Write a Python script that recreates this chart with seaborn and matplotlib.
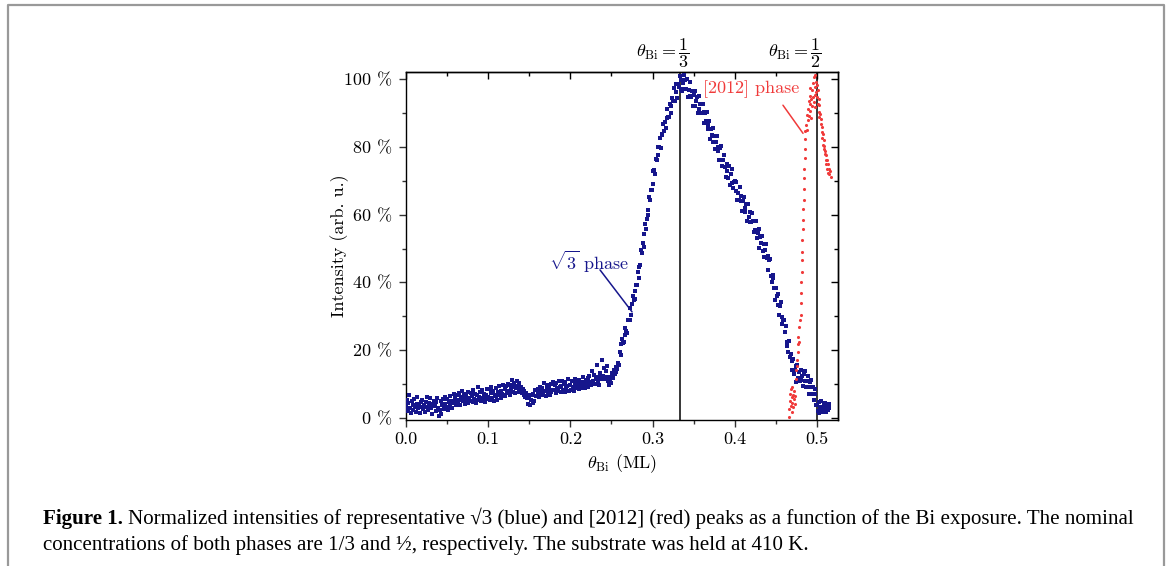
import numpy as np
import pandas as pd
import matplotlib
matplotlib.use("Agg")
import matplotlib.pyplot as plt
import seaborn as sns
from matplotlib.ticker import MultipleLocator, FuncFormatter, NullFormatter
from matplotlib.lines import Line2D

# ---------------- data ----------------
# sqrt(3) phase intensity (%), sampled every 0.001 ML from 0.000 to 0.515
blue_y = [
    3.1, 5.2, 2.0, 4.4, 6.8, 3.0, 1.6, 4.9, 3.7, 2.4, 5.6, 3.2, 1.9, 4.1, 6.1, 2.8, 3.9, 1.4, 4.6, 3.3,
    5.4, 2.6, 3.9, 1.8, 4.8, 6.3, 3.1, 2.2, 4.5, 5.9, 2.9, 3.6, 1.2, 4.2, 5.1, 3.4, 2.0, 4.7, 6.0, 3.0,
    0.6, 2.3, 4.9, 1.1, 3.8, 5.7, 2.7, 6.2, 4.0, 3.2, 5.5, 2.4, 4.6, 6.6, 3.5, 5.0, 2.9, 4.4, 7.0, 4.8,
    5.9, 3.8, 6.7, 4.6, 7.4, 5.2, 3.9, 6.1, 8.0, 4.9, 5.8, 7.1, 4.2, 6.4, 5.3, 7.8, 4.5, 6.0, 5.1, 7.3,
    6.5, 4.7, 8.3, 5.6, 7.0, 4.4, 6.8, 9.0, 5.4, 6.2, 7.7, 4.9, 6.0, 8.1, 5.7, 7.2, 4.6, 6.9, 5.5, 8.4,
    6.1, 8.6, 5.3, 7.4, 9.2, 6.0, 7.9, 5.0, 6.8, 8.8, 6.4, 5.2, 7.6, 9.5, 6.7, 8.0, 5.8, 7.1, 9.8, 6.9,
    8.4, 6.6, 9.3, 7.5, 10.1, 8.0, 6.9, 9.7, 8.6, 11.2, 7.8, 9.0, 10.4, 7.3, 8.9, 11.0, 9.4, 7.7, 10.2, 8.8,
    9.1, 7.4, 8.5, 6.8, 8.0, 6.2, 7.5, 5.9, 6.7, 4.1, 6.6, 3.8, 5.3, 6.9, 4.4, 7.0, 5.1, 8.3, 6.6, 8.2,
    7.0, 8.6, 6.3, 9.1, 7.7, 6.8, 8.9, 7.2, 10.3, 8.0, 6.5, 8.4, 9.6, 7.3, 8.8, 6.9, 9.9, 7.6, 8.3, 10.6,
    8.1, 9.7, 7.4, 10.2, 8.8, 7.9, 11.0, 9.0, 7.6, 9.4, 10.8, 8.3, 9.9, 7.8, 10.5, 8.7, 9.3, 11.4, 8.0, 9.6,
    9.8, 8.2, 10.9, 9.1, 7.9, 10.4, 11.6, 8.8, 9.7, 10.2, 8.4, 11.3, 9.5, 10.7, 8.9, 12.0, 9.3, 10.6, 8.7, 11.1,
    10.0, 11.8, 9.2, 12.4, 10.6, 9.6, 14.0, 11.0, 10.3, 12.7, 9.9, 11.5, 15.6, 10.8, 12.1, 9.8, 13.2, 11.4, 17.0, 12.0,
    12.5, 14.8, 11.6, 13.9, 12.2, 15.3, 10.8, 9.6, 11.4, 10.2, 12.0, 13.4, 11.8, 14.1, 12.9, 13.6, 15.0, 14.3, 16.2, 15.5,
    19.4, 18.5, 21.8, 23.4, 22.0, 22.3, 24.5, 26.6, 25.8, 25.2, 28.8, 29.0, 29.0, 32.5, 30.4, 33.7, 35.9, 34.8, 35.2, 37.5,
    39.3, 39.2, 43.0, 41.3, 44.6, 45.0, 49.7, 48.6, 51.6, 50.5, 54.4, 57.1, 55.9, 58.7, 61.5, 59.9, 65.3, 64.4, 67.4, 67.3,
    69.0, 73.0, 73.1, 72.1, 76.4, 76.1, 80.0, 77.5, 80.1, 82.5, 79.7, 83.6, 83.7, 86.7, 84.6, 87.4, 85.7, 88.6, 91.1, 88.9,
    88.8, 92.8, 92.0, 89.9, 94.5, 93.4, 97.4, 93.6, 96.2, 98.6, 94.4, 98.6, 97.8, 100.8, 97.1, 99.6, 96.4, 98.9, 101.1, 97.2,
    99.8, 97.2, 99.9, 94.8, 96.9, 94.9, 99.0, 94.8, 96.4, 92.2, 95.2, 96.4, 92.0, 93.4, 94.7, 89.9, 95.0, 91.1, 92.8, 89.9,
    90.0, 92.6, 90.4, 86.9, 90.1, 87.6, 90.3, 85.2, 86.5, 87.7, 82.3, 85.4, 83.6, 85.7, 81.3, 83.2, 79.5, 81.5, 83.2, 78.9,
    79.9, 76.2, 79.7, 80.4, 76.0, 74.4, 76.0, 77.5, 74.0, 71.1, 75.0, 73.0, 70.9, 74.4, 68.8, 71.9, 73.4, 69.4, 67.8, 69.5,
    69.8, 67.0, 69.7, 64.4, 66.5, 64.3, 68.3, 64.0, 65.5, 61.2, 64.1, 65.1, 60.7, 61.9, 63.2, 58.2, 63.2, 59.2, 60.8, 57.8,
    57.8, 60.4, 58.2, 54.8, 58.0, 55.5, 58.2, 53.1, 54.5, 55.7, 50.3, 53.4, 51.6, 53.8, 49.4, 51.3, 47.6, 49.6, 51.4, 47.1,
    47.7, 43.6, 46.6, 46.9, 42.0, 40.0, 41.2, 42.2, 38.3, 34.9, 38.4, 36.0, 33.4, 36.5, 30.4, 33.1, 34.2, 29.7, 27.7, 28.9,
    28.8, 25.3, 27.2, 21.2, 22.5, 19.6, 22.8, 18.0, 18.9, 14.2, 16.7, 17.5, 12.9, 14.1, 15.4, 10.6, 15.7, 11.9, 13.7, 11.0,
    11.2, 14.2, 12.4, 9.3, 12.9, 10.8, 13.9, 9.2, 10.8, 12.3, 7.2, 10.6, 9.0, 11.3, 7.0, 9.0, 5.3, 7.2, 8.6, 3.7,
    3.8, 2.1, 4.6, 1.5, 3.2, 4.9, 2.6, 1.9, 3.9, 2.8, 4.3, 1.7, 3.5, 2.4, 4.0, 3.0,
]
blue_x = np.arange(len(blue_y)) * 0.001

# [2012] phase
red_x = [
    0.4655, 0.466, 0.467, 0.467, 0.468, 0.468, 0.469, 0.469, 0.470, 0.470, 0.471, 0.471, 0.472, 0.472, 0.473, 0.473,
    0.4745, 0.475, 0.4755, 0.476, 0.4765, 0.477, 0.4775, 0.478, 0.4785, 0.479,
    0.4800, 0.4803, 0.4806, 0.4810, 0.4813, 0.4816, 0.4820, 0.4823, 0.4826, 0.4830, 0.4833, 0.4836, 0.4840,
    0.4843, 0.4846, 0.4850, 0.4853, 0.4856, 0.4860,
    0.487, 0.488, 0.488, 0.489, 0.489, 0.490, 0.490, 0.491, 0.491, 0.492, 0.492, 0.493, 0.493, 0.494, 0.494,
    0.495, 0.495, 0.496, 0.496, 0.497, 0.497, 0.498, 0.498, 0.499, 0.499, 0.500, 0.500, 0.501, 0.501, 0.502,
    0.502, 0.503, 0.503,
    0.504, 0.5045, 0.505, 0.5055, 0.506, 0.5065, 0.507, 0.5075, 0.508, 0.5085, 0.509, 0.5095, 0.510, 0.5105,
    0.511, 0.5115, 0.512, 0.5125, 0.513, 0.5135, 0.514, 0.515, 0.516, 0.517,
]
red_y = [
    0.4, 2.5, 5.0, 7.2, 3.6, 8.4, 6.1, 1.8, 4.5, 9.0, 6.8, 3.2, 5.6, 8.0, 4.1, 6.5,
    11.5, 14.2, 17.0, 15.3, 19.4, 21.8, 24.0, 22.5, 26.7, 28.9,
    30.5, 33.8, 36.9, 40.2, 43.0, 46.5, 49.1, 52.4, 55.8, 58.3, 61.7, 64.2, 67.5,
    70.9, 73.4, 76.8, 79.5, 82.3, 84.6,
    86.5, 89.4, 84.9, 91.2, 87.8, 93.5, 89.1, 95.0, 90.7, 92.6, 97.3, 94.1, 88.6, 96.8, 92.0,
    98.9, 94.7, 100.5, 93.2, 97.6, 95.4, 101.2, 91.9, 99.0, 96.1, 94.6, 98.3, 92.8, 96.9, 90.4,
    94.0, 88.7, 92.5,
    89.6, 86.8, 88.1, 84.5, 85.9, 82.7, 83.8, 80.6, 81.9, 79.3, 80.4, 77.8, 78.9, 76.2,
    77.5, 74.9, 76.1, 73.6, 74.8, 72.4, 73.5, 71.9, 73.0, 71.2,
]

nominal_cov = [1 / 3, 1 / 2]
nominal_labels = [r"$\theta_{\rm Bi} = \dfrac{1}{3}$", r"$\theta_{\rm Bi} = \dfrac{1}{2}$"]
x_ticks_step, y_ticks_step = 0.1, 20

BLUE = "#16168c"
RED = "#f03a3a"

# ---------------- style ----------------
plt.rcParams.update({
    "font.family": ["cmr10", "DejaVu Serif"],
    "mathtext.fontset": "cm",
    "axes.unicode_minus": False,
    "axes.formatter.use_mathtext": True,
    "axes.linewidth": 1.0,
})

fig = plt.figure(figsize=(11.7, 5.66), dpi=100)
ax = fig.add_axes([0.347, 0.258, 0.3692, 0.6148])

blue_df = pd.DataFrame({"coverage": blue_x, "intensity": blue_y})
red_df = pd.DataFrame({"coverage": red_x, "intensity": red_y})
sns.scatterplot(data=blue_df, x="coverage", y="intensity", marker="s", s=11,
                color=BLUE, linewidth=0, ax=ax, zorder=3)
sns.scatterplot(data=red_df, x="coverage", y="intensity", marker="o", s=5,
                color=RED, linewidth=0, ax=ax, zorder=3)

for c in nominal_cov:
    ax.axvline(c, color="black", lw=1.1, zorder=2)

ax.set_xlim(0, 0.5255)
ax.set_ylim(-0.6, 102.1)
ax.xaxis.set_major_locator(MultipleLocator(x_ticks_step))
ax.xaxis.set_minor_locator(MultipleLocator(x_ticks_step / 2))
ax.yaxis.set_major_locator(MultipleLocator(y_ticks_step))
ax.yaxis.set_minor_locator(MultipleLocator(y_ticks_step / 2))
ax.xaxis.set_major_formatter(FuncFormatter(lambda v, p: f"{v:.1f}"))
ax.yaxis.set_major_formatter(FuncFormatter(lambda v, p: f"{v:.0f} %"))
ax.tick_params(which="major", direction="out", length=5, width=1, labelsize=13, color="#333333")
ax.tick_params(which="minor", direction="out", length=3, width=1, color="#333333")
ax.tick_params(axis="y", which="major", pad=5)
ax.tick_params(axis="x", which="major", pad=3.5)

secx = ax.secondary_xaxis("top")
secx.xaxis.set_major_locator(MultipleLocator(x_ticks_step))
secx.xaxis.set_minor_locator(MultipleLocator(x_ticks_step / 2))
secx.xaxis.set_major_formatter(NullFormatter())
secx.tick_params(which="major", direction="in", length=5, width=1)
secx.tick_params(which="minor", direction="in", length=3, width=1)
secy = ax.secondary_yaxis("right")
secy.yaxis.set_major_locator(MultipleLocator(y_ticks_step))
secy.yaxis.set_minor_locator(MultipleLocator(y_ticks_step / 2))
secy.yaxis.set_major_formatter(NullFormatter())
secy.tick_params(which="major", direction="in", length=5, width=1)
secy.tick_params(which="minor", direction="in", length=3, width=1)

ax.set_xlabel(r"$\theta_{\rm Bi}$ (ML)", fontsize=13)
ax.set_ylabel("Intensity (arb. u.)", fontsize=13)
ax.xaxis.set_label_coords(0.5, -0.092)
ax.yaxis.set_label_coords(-0.133, 0.5)

# nominal coverage labels above the axes
offsets = [0.012, 0.006]
for c, lab, off in zip(nominal_cov, nominal_labels, offsets):
    ax.text(c + off, 102.6, lab, ha="right", va="bottom", fontsize=13, clip_on=False)

# phase annotations
ax.text(0.2226, 46.0, r"$\sqrt{3}$ phase", color=BLUE, fontsize=13, ha="center", va="center")
ax.annotate("", xy=(0.275, 31.3), xytext=(0.236, 43.7),
            arrowprops=dict(arrowstyle="-", color=BLUE, lw=1.1, shrinkA=0, shrinkB=0))
ax.text(0.4197, 97.0, "[2012] phase", color=RED, fontsize=13, ha="center", va="center")
ax.annotate("", xy=(0.483, 84.0), xytext=(0.4586, 92.3),
            arrowprops=dict(arrowstyle="-", color=RED, lw=1.1, shrinkA=0, shrinkB=0))

# frame around the figure
W, H = 1170, 566
frame = Line2D([7.5 / W, 7.5 / W, 1164 / W, 1164 / W], [-0.01, 1 - 4.5 / H, 1 - 4.5 / H, -0.01],
               transform=fig.transFigure, color="#999999", lw=1.6)
fig.add_artist(frame)

# caption
cap_fam = ["Liberation Serif", "DejaVu Serif"]
line1_rest = ("Normalized intensities of representative \u221a3 (blue) and [2012] (red) peaks "
              "as a function of the Bi exposure. The nominal")
line2 = ("concentrations of both phases are 1/3 and \u00bd, respectively. "
         "The substrate was held at 410 K.")
renderer = fig.canvas.get_renderer()
x0 = 43 / W
fs = 13.0
t1 = fig.text(x0, 1 - 524 / H, "Figure 1.", fontsize=fs, weight="bold", family=cap_fam, va="baseline")
t2 = fig.text(x0, 1 - 524 / H, line1_rest, fontsize=fs, family=cap_fam, va="baseline")
w1 = t1.get_window_extent(renderer).width
w2 = t2.get_window_extent(renderer).width
space = fs * 0.25 * 100 / 72
scale = (1128 - 43) / (w1 + space + w2)
fs2 = fs * scale
t1.set_fontsize(fs2)
t2.set_fontsize(fs2)
w1 = t1.get_window_extent(renderer).width
t2.set_x(x0 + (w1 + fs2 * 0.25 * 100 / 72) / W)
fig.text(x0, 1 - 550 / H, line2, fontsize=fs2, family=cap_fam, va="baseline")

fig.savefig("out.png", dpi=100)
